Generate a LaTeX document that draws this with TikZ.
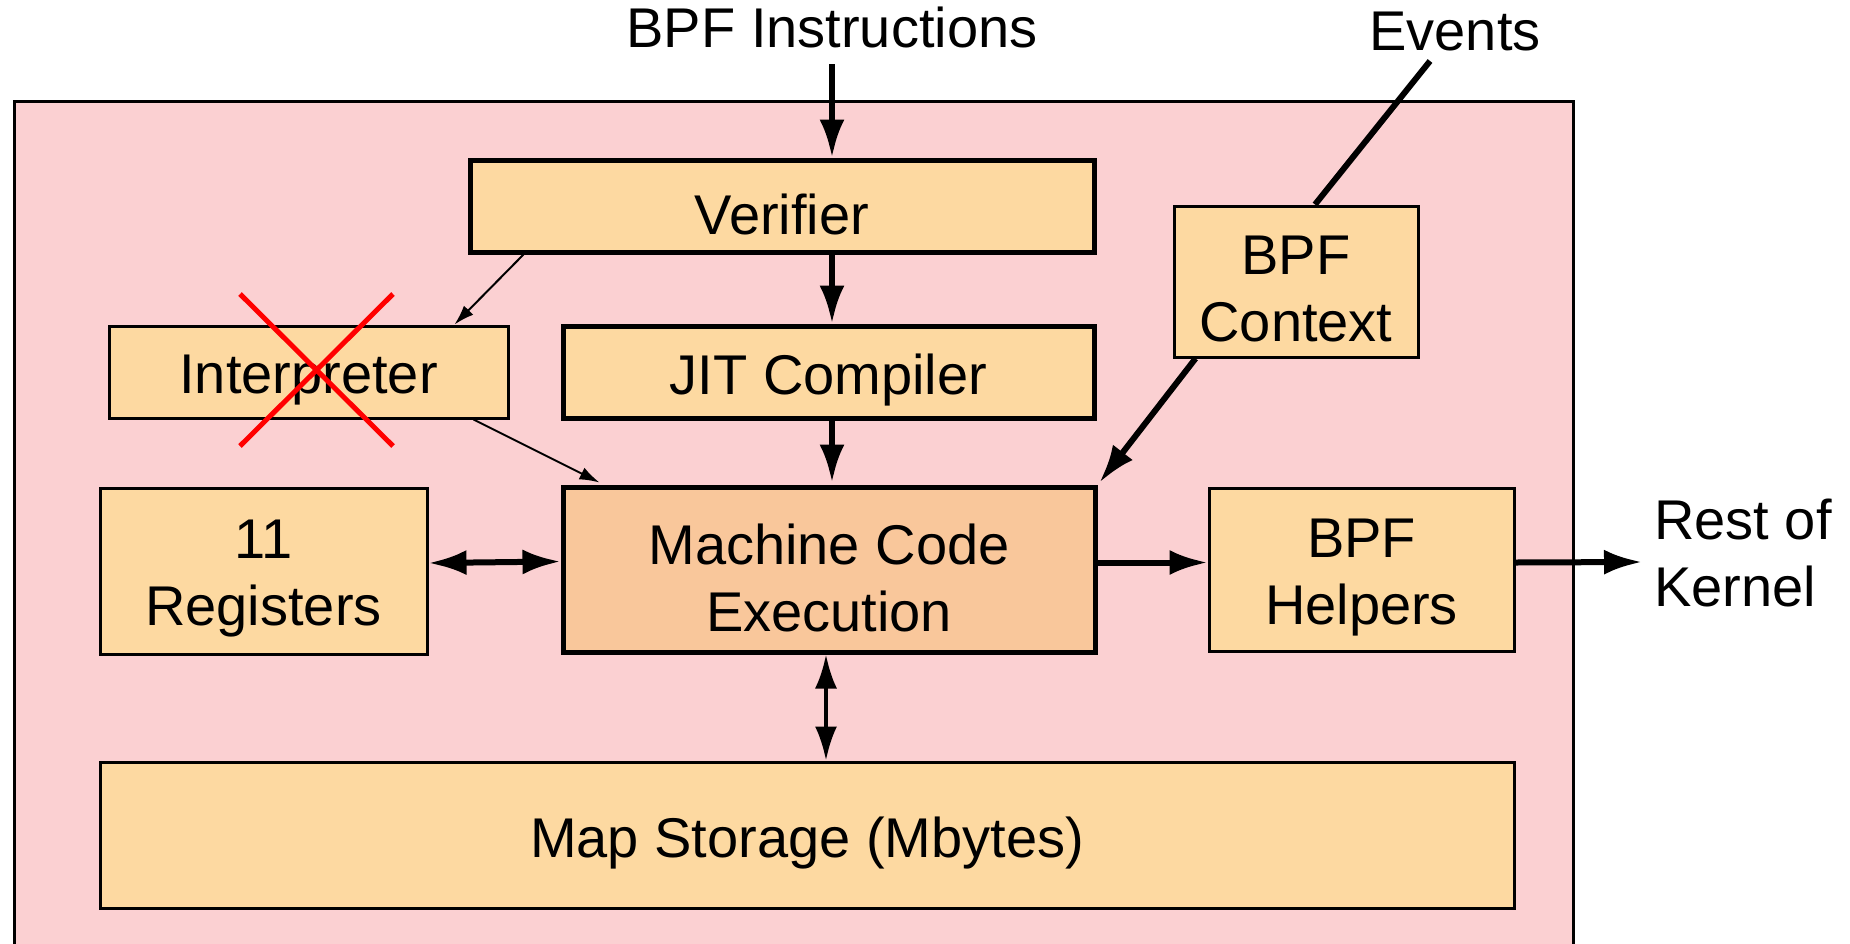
\documentclass[tikz,border=0pt]{standalone}
\usepackage{fontspec}
\setmainfont{Liberation Sans}
\usetikzlibrary{arrows.meta}
\definecolor{pinkbg}{HTML}{FBD0D2}
\definecolor{boxfill}{HTML}{FDD9A1}
\definecolor{mcefill}{HTML}{F9C79B}
\begin{document}
\begin{tikzpicture}[x=1pt,y=-1pt,
  lbl/.style={font=\fontsize{56}{67}\selectfont, align=center, inner sep=0pt},
  boxthin/.style={draw=black, line width=3pt, fill=boxfill},
  boxthick/.style={draw=black, line width=5pt, fill=boxfill},
  txt/.style={label={[lbl,yshift=-8pt]center:{#1}}},
  bigarrow/.style={line width=6pt, -{Latex[length=38pt,width=25pt]}},
  bigdarrow/.style={line width=6pt, {Latex[length=38pt,width=25pt]}-{Latex[length=38pt,width=25pt]}},
  thinarrow/.style={line width=2pt, -{Latex[length=20pt,width=13pt]}},
  crossline/.style={red, line width=5pt}
]
\useasboundingbox (0,0) rectangle (1850,943);
\fill[white] (0,0) rectangle (1850,943);
\draw[fill=pinkbg, line width=3pt] (14,990) -- (14,101) -- (1573,101) -- (1573,990);

\node[boxthick, minimum width=624pt, minimum height=92pt, txt={Verifier}] (ver) at (782,206) {};
\node[boxthin, minimum width=399pt, minimum height=92pt, txt={Interpreter}] (interp) at (308.5,372) {};
\node[boxthick, minimum width=531pt, minimum height=92pt, txt={JIT Compiler}] (jit) at (828.5,372) {};
\node[boxthin, minimum width=244pt, minimum height=151pt, txt={BPF\\Context}] (ctx) at (1296,281.5) {};
\node[boxthin, minimum width=327pt, minimum height=166pt, txt={11\\Registers}] (reg) at (263.5,571) {};
\node[boxthick, fill=mcefill, minimum width=532pt, minimum height=165pt, txt={Machine Code\\Execution}] (mce) at (829,569.5) {};
\node[boxthin, minimum width=305pt, minimum height=163pt, txt={BPF\\Helpers}] (help) at (1361.5,569.5) {};
\node[boxthin, minimum width=1414pt, minimum height=146pt, txt={Map Storage (Mbytes)}] (map) at (807,835) {};

\node[lbl] (bpfin) at (832,27) {BPF Instructions};
\node[lbl] (events) at (1455,32) {Events};
\node[lbl, align=left, anchor=west] (rest) at (1654,553) {Rest of\\Kernel};

\coordinate (insrc) at (832,64);
\coordinate (evsrc) at (1430,61);
\coordinate (restend) at (1642,562);

\draw[bigarrow] (insrc) -- (insrc |- ver.north);
\draw[bigarrow] (ver.south -| insrc) -- (jit.north -| insrc);
\draw[bigarrow] (jit.south -| insrc) -- ([yshift=2pt]mce.north -| insrc);
\draw[thinarrow] ([xshift=56pt]ver.south west) -- ([xshift=-55pt]interp.north east);
\draw[thinarrow] ([xshift=-36pt]interp.south east) -- ([xshift=39pt,yshift=2pt]mce.north west);
\draw[line width=6pt] (evsrc) -- ([xshift=19pt]ctx.north);
\draw[bigarrow] ([xshift=23pt]ctx.south west) -- ([xshift=2pt,yshift=2pt]mce.north east);
\draw[bigdarrow] ([yshift=8pt]reg.east) -- ([yshift=8pt]mce.west);
\draw[bigarrow] ([yshift=7pt]mce.east) -- ([yshift=7pt]help.east -| help.west);
\draw[bigarrow] ([yshift=7pt]help.east) -- (restend);
\draw[line width=4pt, {Latex[length=34pt,width=22pt]}-{Latex[length=34pt,width=22pt]}] ([xshift=-3pt]mce.south) -- ([xshift=-3pt]mce.south |- map.north);

\draw[crossline] (240,294) -- (393,446);
\draw[crossline] (393,294) -- (240,446);
\end{tikzpicture}
\end{document}
